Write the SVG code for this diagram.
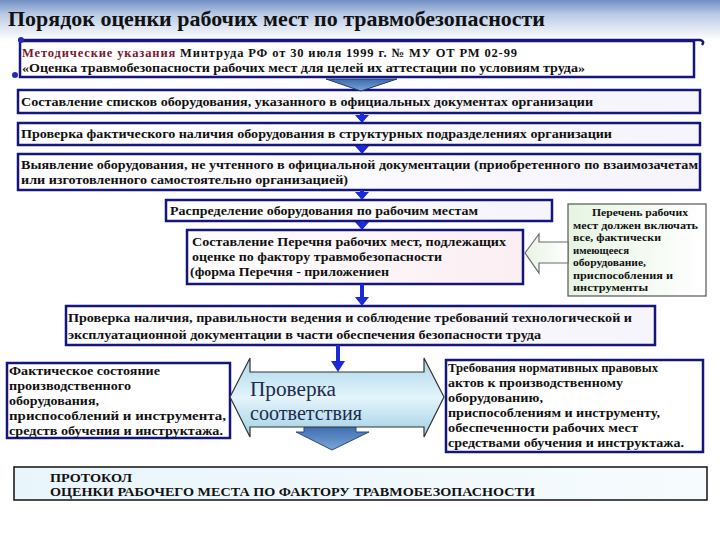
<svg xmlns="http://www.w3.org/2000/svg" width="720" height="540" viewBox="0 0 720 540">
<defs>
<linearGradient id="titleBg" x1="0" y1="0" x2="0" y2="1">
<stop offset="0" stop-color="#6f8fc4"/>
<stop offset="0.35" stop-color="#b8c9e4"/>
<stop offset="1" stop-color="#ffffff"/>
</linearGradient>
<linearGradient id="boxFill" x1="0" y1="0" x2="1" y2="0">
<stop offset="0" stop-color="#ffffff"/>
<stop offset="1" stop-color="#f6f4fc"/>
</linearGradient>
<linearGradient id="pinkFill" x1="0" y1="0" x2="1" y2="0">
<stop offset="0" stop-color="#ffffff"/>
<stop offset="1" stop-color="#fbeef2"/>
</linearGradient>
<linearGradient id="greenFill" x1="0" y1="0" x2="1" y2="0">
<stop offset="0" stop-color="#e6f4e2"/>
<stop offset="1" stop-color="#ffffff"/>
</linearGradient>
<linearGradient id="cyanArrow" x1="0" y1="0" x2="0" y2="1">
<stop offset="0" stop-color="#a9d6ea"/>
<stop offset="0.5" stop-color="#e4f4fb"/>
<stop offset="1" stop-color="#9fd0e6"/>
</linearGradient>
<linearGradient id="steel" x1="0" y1="0" x2="0" y2="1">
<stop offset="0" stop-color="#3c6ab0"/>
<stop offset="1" stop-color="#7ba6d6"/>
</linearGradient>
<linearGradient id="protoFill" x1="0" y1="0" x2="1" y2="0">
<stop offset="0" stop-color="#e8f5fb"/>
<stop offset="1" stop-color="#f6fbfd"/>
</linearGradient>
</defs>
<style>
.box{fill:url(#boxFill);stroke:#15157e;stroke-width:2.5}
.t{font-family:"Liberation Serif","DejaVu Serif","Noto Serif",serif;font-weight:bold;fill:#111}
.r{font-family:"Liberation Serif","DejaVu Serif","Noto Serif",serif;font-weight:normal}
.s12{font-size:12.5px}
.s11{font-size:11.5px}
.s10{font-size:10px}
.arr{fill:#1a2ad8}
</style>
<rect x="0" y="0" width="720" height="540" fill="#ffffff"/>
<rect x="0" y="0" width="720" height="40" fill="url(#titleBg)"/>
<text class="t" x="8" y="26" font-size="22" textLength="537" lengthAdjust="spacingAndGlyphs">Порядок оценки рабочих мест по травмобезопасности</text>

<g id="node-methodical">
<rect x="20" y="41" width="674" height="36" fill="#ffffff" stroke="#15157e" stroke-width="2.5"/>
<path d="M18 40 L700 40 Q705 41 702 45" fill="none" stroke="#15157e" stroke-width="2.5"/>
<circle cx="21" cy="40" r="3" fill="#2a2ab0"/>
<circle cx="15" cy="75" r="3" fill="#2a2ab0"/>
<text class="t s12" x="22" y="57" textLength="495" lengthAdjust="spacing"><tspan fill="#7a1830">Методические указания</tspan><tspan> Минтруда РФ от  30 июля 1999 г. № МУ ОТ РМ 02-99</tspan></text>
<text class="t s12" x="22" y="72" textLength="563" lengthAdjust="spacingAndGlyphs">«Оценка травмобезопасности рабочих мест для целей их аттестации по условиям труда»</text>
</g>

<g id="node-lists">
<rect class="box" x="18" y="90" width="682" height="23"/>
<text class="t s12" x="21" y="106" textLength="572" lengthAdjust="spacingAndGlyphs">Составление списков оборудования, указанного в официальных документах организации</text>
</g>

<g id="node-check-presence">
<rect class="box" x="18" y="123" width="682" height="22"/>
<text class="t s12" x="21" y="138" textLength="591" lengthAdjust="spacingAndGlyphs">Проверка фактического наличия оборудования в структурных подразделениях организации</text>
</g>

<g id="node-detect">
<rect class="box" x="18" y="154" width="682" height="36"/>
<text class="t s12" x="21" y="169" textLength="677" lengthAdjust="spacingAndGlyphs">Выявление  оборудования, не учтенного в официальной документации (приобретенного по взаимозачетам</text>
<text class="t s12" x="21" y="184" textLength="327" lengthAdjust="spacingAndGlyphs">или изготовленного самостоятельно организацией)</text>
</g>

<g id="node-distribute">
<rect class="box" x="166" y="200" width="386" height="21"/>
<text class="t s12" x="170" y="215" textLength="308" lengthAdjust="spacingAndGlyphs">Распределение оборудования по рабочим местам</text>
</g>

<g id="node-list-places">
<rect x="187" y="230" width="336" height="54" fill="url(#pinkFill)" stroke="#15157e" stroke-width="2.5"/>
<text class="t" font-size="13" x="192" y="246" textLength="314" lengthAdjust="spacingAndGlyphs">Составление Перечня рабочих мест, подлежащих</text>
<text class="t" font-size="13" x="192" y="261" textLength="250" lengthAdjust="spacingAndGlyphs">оценке по фактору травмобезопасности</text>
<text class="t" font-size="13" x="190" y="276" textLength="199" lengthAdjust="spacingAndGlyphs">(форма Перечня - приложениен</text>
</g>

<g id="node-note">
<rect x="568" y="204" width="138" height="92" fill="url(#greenFill)" stroke="#555" stroke-width="1.2"/>
<text class="t s10" x="592" y="216" textLength="96" lengthAdjust="spacingAndGlyphs">Перечень рабочих</text>
<text class="t s10" x="573" y="229" textLength="125" lengthAdjust="spacingAndGlyphs">мест должен включать</text>
<text class="t s10" x="573" y="241" textLength="88" lengthAdjust="spacingAndGlyphs">все, фактически</text>
<text class="t s10" x="573" y="254" textLength="56" lengthAdjust="spacingAndGlyphs">имеющееся</text>
<text class="t s10" x="573" y="266" textLength="73" lengthAdjust="spacingAndGlyphs">оборудование,</text>
<text class="t s10" x="573" y="279" textLength="100" lengthAdjust="spacingAndGlyphs">приспособления и</text>
<text class="t s10" x="573" y="291" textLength="75" lengthAdjust="spacingAndGlyphs">инструменты</text>
</g>

<g id="node-check-docs">
<rect class="box" x="66" y="306" width="589" height="39"/>
<text class="t s12" x="68" y="322" textLength="564" lengthAdjust="spacingAndGlyphs">Проверка наличия, правильности ведения и соблюдение требований технологической и</text>
<text class="t s12" x="68" y="339" textLength="473" lengthAdjust="spacingAndGlyphs">эксплуатационной документации в части обеспечения безопасности труда</text>
</g>

<g id="node-actual">
<rect x="7" y="363" width="223" height="75" fill="#ffffff" stroke="#15157e" stroke-width="2.5"/>
<text class="t s11" x="9" y="375" textLength="151" lengthAdjust="spacingAndGlyphs">Фактическое состояние</text>
<text class="t s11" x="9" y="390" textLength="122" lengthAdjust="spacingAndGlyphs">производственного</text>
<text class="t s11" x="9" y="405" textLength="90" lengthAdjust="spacingAndGlyphs">оборудования,</text>
<text class="t s11" x="9" y="420" textLength="217" lengthAdjust="spacingAndGlyphs">приспособлений и инструмента,</text>
<text class="t s11" x="9" y="435" textLength="214" lengthAdjust="spacingAndGlyphs">средств обучения и инструктажа.</text>
</g>

<g id="node-requirements">
<rect x="446" y="360" width="257" height="92" fill="#ffffff" stroke="#15157e" stroke-width="2.5"/>
<text class="t s11" x="448" y="372" textLength="210" lengthAdjust="spacingAndGlyphs">Требования нормативных правовых</text>
<text class="t s11" x="448" y="387" textLength="175" lengthAdjust="spacingAndGlyphs">актов к производственному</text>
<text class="t s11" x="448" y="402" textLength="95" lengthAdjust="spacingAndGlyphs">оборудованию,</text>
<text class="t s11" x="448" y="417" textLength="212" lengthAdjust="spacingAndGlyphs">приспособлениям и инструменту,</text>
<text class="t s11" x="448" y="432" textLength="190" lengthAdjust="spacingAndGlyphs">обеспеченности  рабочих мест</text>
<text class="t s11" x="448" y="447" textLength="236" lengthAdjust="spacingAndGlyphs">средствами обучения и инструктажа.</text>
</g>

<g id="node-protocol">
<rect x="14" y="467" width="693" height="33" fill="url(#protoFill)" stroke="#111" stroke-width="1.5"/>
<text class="t" font-size="12" x="50" y="482" textLength="82" lengthAdjust="spacingAndGlyphs">ПРОТОКОЛ</text>
<text class="t" font-size="12" x="50" y="496" textLength="485" lengthAdjust="spacingAndGlyphs">ОЦЕНКИ РАБОЧЕГО МЕСТА ПО ФАКТОРУ ТРАВМОБЕЗОПАСНОСТИ</text>
</g>

<g id="connectors">
<polygon points="326,79 397,79 361,91" fill="url(#steel)" stroke="#1f3a6a" stroke-width="1"/>
<rect class="arr" x="360" y="113" width="4" height="3"/>
<polygon class="arr" points="355,115 369,115 362,123"/>
<rect class="arr" x="360" y="145" width="4" height="3"/>
<polygon class="arr" points="355,146 369,146 362,154"/>
<rect class="arr" x="360" y="190" width="4" height="3"/>
<polygon class="arr" points="355,192 369,192 362,200"/>
<rect class="arr" x="360" y="221" width="4" height="2"/>
<polygon class="arr" points="355,222 369,222 362,230"/>
<rect class="arr" x="360" y="284" width="4" height="15"/>
<polygon class="arr" points="355,297 369,297 362,306"/>
<rect class="arr" x="336" y="345" width="4" height="18"/>
<polygon class="arr" points="331,361 345,361 338,372"/>
<polygon points="525,253 539,234 539,242 568,242 568,263 539,263 539,273" fill="url(#greenFill)" stroke="#6a6a6a" stroke-width="1.2"/>
<polygon points="304,426 356,426 356,432 369,432 332,450 296,432 304,432" fill="url(#steel)" stroke="#2a4a80" stroke-width="1"/>
<polygon points="230,397 250,358 250,372 424,372 424,358 444,397 424,437 424,427 250,427 250,437" fill="url(#cyanArrow)" stroke="#333" stroke-width="1.2"/>
<text class="r" x="250" y="396" font-size="20" fill="#1d2c4c" textLength="86" lengthAdjust="spacingAndGlyphs">Проверка</text>
<text class="r" x="250" y="420" font-size="20" fill="#1d2c4c" textLength="112" lengthAdjust="spacingAndGlyphs">соответствия</text>
</g>
</svg>
